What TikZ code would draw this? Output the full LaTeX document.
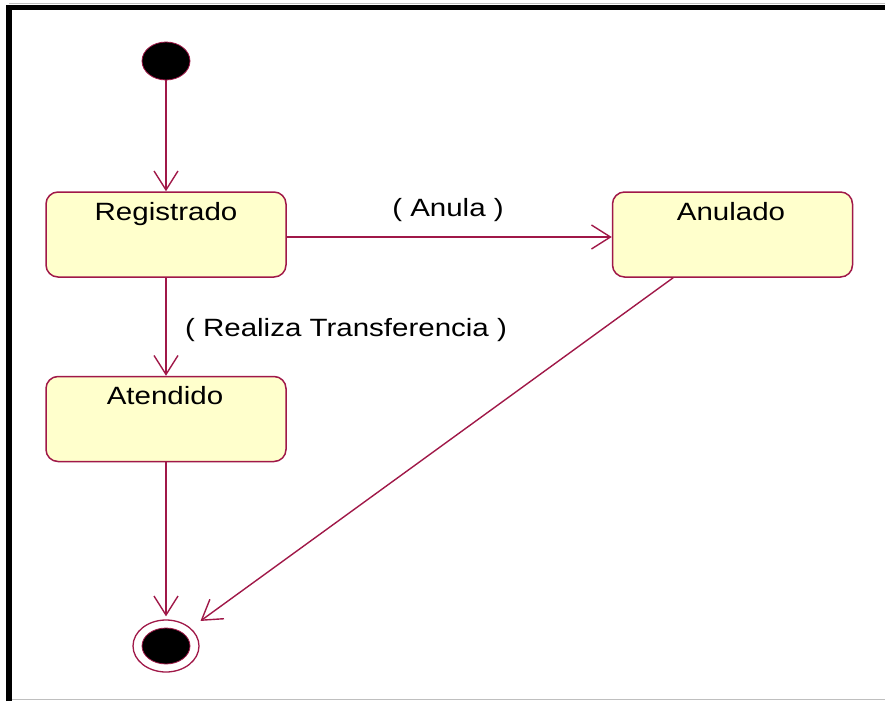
\documentclass[tikz,border=0pt]{standalone}
\usepackage{fontspec}
\setmainfont{Liberation Sans}
\usetikzlibrary{arrows.meta,shapes.geometric}
\definecolor{edgecol}{HTML}{A01848}
\definecolor{statefill}{HTML}{FFFFCC}
\newcommand{\wtxt}[1]{\scalebox{1.18}[1]{#1}}
\begin{document}
\begin{tikzpicture}[x=1pt,y=-1pt,
  statebox/.style={draw=edgecol,fill=statefill,line width=1.5pt,rounded corners=12pt,
    minimum width=240pt,minimum height=85pt,inner sep=0pt},
  lbl/.style={font=\fontsize{25}{30}\selectfont,text=black,inner sep=0pt,anchor=base},
  trans/.style={draw=edgecol,line width=1.4pt,
    -{Straight Barb[length=19pt,width=24pt,line width=1.4pt]}},
]
\useasboundingbox (0,0) rectangle (885,701);
% frame
\draw[gray!50,line width=1pt] (9,3.5) -- (885,3.5);
\draw[gray!50,line width=1.2pt] (9,699.5) -- (885,699.5);
\draw[black,line width=5.5pt,line join=miter] (9,701) -- (9,7.5) -- (885,7.5);
% states
\node[ellipse,fill=black,draw=edgecol,line width=0.8pt,minimum width=48pt,minimum height=38pt,inner sep=0pt] (init) at (166,61) {};
\node[statebox] (reg) at (166,234.5) {};
\node[statebox] (anu) at (732.5,234.5) {};
\node[statebox] (ate) at (166,419) {};
\node[ellipse,draw=edgecol,fill=white,line width=1.3pt,minimum width=66pt,minimum height=52pt,inner sep=0pt] (fin) at (166,646) {};
\node[ellipse,fill=black,draw=edgecol,line width=0.8pt,minimum width=48pt,minimum height=36pt,inner sep=0pt] (finin) at (fin.center) {};
% state names
\node[lbl] (regt) at (166,220) {\wtxt{Registrado}};
\node[lbl] (anut) at (731,220) {\wtxt{Anulado}};
\node[lbl] (atet) at (165,404) {\wtxt{Atendido}};
% transitions
\draw[trans] (init) -- (reg);
\draw[trans] (reg.east |- 0,237) -- (anu.west |- 0,237);
\draw[trans] (reg) -- (ate);
\draw[trans,shorten >=3pt] (ate) -- (fin);
\draw[trans,shorten >=12pt] (anu) -- (fin);
% transition labels
\node[lbl] (anulat) at (448,216) {\wtxt{( Anula )}};
\node[lbl] (realt) at (346,336) {\wtxt{( Realiza Transferencia )}};
\end{tikzpicture}
\end{document}
